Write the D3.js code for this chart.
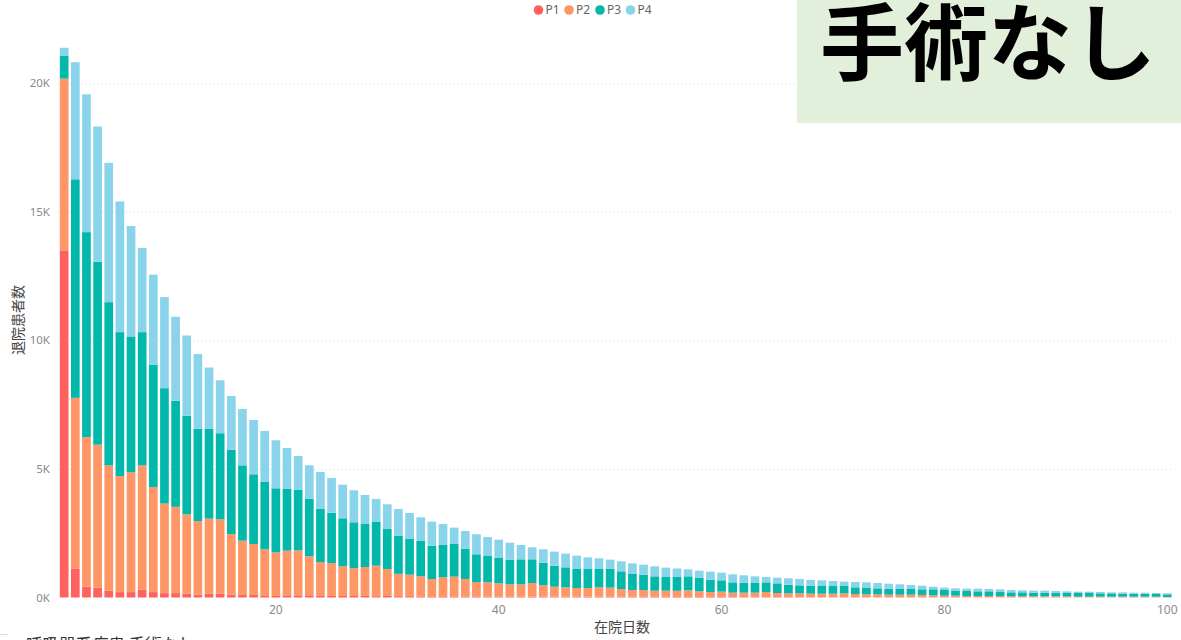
<!DOCTYPE html>
<html><head><meta charset="utf-8">
<script src="https://cdn.jsdelivr.net/npm/d3@7"></script>
<style>
html,body{margin:0;padding:0;background:#fff;overflow:hidden}
text{font-family:"Segoe UI","Noto Sans","Noto Sans CJK JP",sans-serif}
</style></head>
<body>
<svg id="chart" width="1181" height="640"></svg>
<script>
const days = d3.range(1, 101);
const seriesNames = ["P1","P2","P3","P4"];
const seriesColors = ["#FD625E","#FE9666","#01B8AA","#8AD4EB"];
const P1 = [13500,1130,420,380,260,210,210,300,210,170,170,145,110,145,145,110,95,95,60,60,
  85,60,60,80,60,60,60,60,50,60,50,50,45,45,45,45,40,40,40,40,
  35,35,35,35,30,30,30,30,30,30,25,25,25,25,25,20,20,20,20,20,
  15,15,15,15,15,15,12,12,12,12,12,10,10,10,10,10,10,8,8,8,
  8,6,6,6,6,5,5,5,5,5,5,4,4,4,4,4,4,4,3,3];
const P2 = [6680,6635,5817,5565,4879,4513,4665,4839,4082,3483,3358,3091,2864,2923,2897,2355,2115,1987,1814,1697,
  1737,1775,1542,1301,1282,1153,1088,1127,1189,1049,870,838,779,675,740,766,680,563,550,511,
  477,477,529,438,391,366,340,340,366,353,306,267,267,241,241,240,259,220,194,207,
  173,173,173,199,160,147,150,137,137,137,150,126,113,113,100,100,100,92,76,63,
  63,52,52,52,52,40,40,40,40,40,40,28,28,28,28,28,28,28,29,16];
const P3 = [880,8500,7973,7112,6348,5597,5279,5181,4764,4487,4125,3830,3582,3488,3346,3286,2931,2710,2620,2491,
  2400,2348,2231,2062,1959,1867,1777,1673,1712,1556,1486,1388,1374,1297,1258,1271,1180,1077,1025,986,
  960,973,921,882,818,778,739,739,713,726,687,622,596,558,532,538,545,532,480,441,
  402,389,376,376,376,337,311,311,298,298,285,260,247,234,234,221,221,218,234,221,
  195,195,182,182,156,156,156,143,143,143,130,143,143,130,130,117,117,117,104,104];
const P4 = [320,4555,5360,5263,5417,5084,4292,3278,3501,3541,3265,3124,2911,2389,2060,2086,2193,2114,1985,1867,
  1595,1323,1310,1440,1349,1310,1245,1128,882,960,1038,1012,921,933,812,635,688,778,739,713,
  662,558,467,519,544,532,519,454,415,363,389,415,390,389,363,330,272,272,311,298,
  311,286,260,208,221,247,247,221,221,195,169,207,220,207,194,181,155,142,103,91,
  91,91,104,91,104,91,78,78,78,65,65,52,52,52,39,52,39,39,39,39];
const yTicks = [0,5000,10000,15000,20000];
const yTickLabels = ["0K","5K","10K","15K","20K"];
const xTicks = [20,40,60,80,100];
const xTitle = "在院日数";
const yTitle = "退院患者数";
const bigTitle = "手術なし";
const footer = "呼吸器系疾患 手術なし";

const svg = d3.select("#chart");
const rows = days.map((d,i)=>({day:d,P1:P1[i],P2:P2[i],P3:P3[i],P4:P4[i]}));
const stack = d3.stack().keys(seriesNames)(rows);

const x = d3.scaleBand().domain(days).range([58.6,1172.8]).paddingInner(0.22).paddingOuter(0.11);
const y = d3.scaleLinear().domain([0,22000]).range([597.5, 597.5-22000*0.025712]);

// gridlines
svg.append("g").selectAll("line").data(yTicks.filter(t=>t>0)).join("line")
  .attr("x1",58).attr("x2",1172)
  .attr("y1",d=>y(d)+0.5).attr("y2",d=>y(d)+0.5)
  .attr("stroke","#d4d4d4").attr("stroke-width",1).attr("stroke-dasharray","1,3");

// y labels
svg.append("g").selectAll("text").data(yTicks).join("text")
  .attr("x",50).attr("y",d=>y(d)).attr("dy","0.35em")
  .attr("text-anchor","end").attr("font-size",11.5).attr("fill","#8a8a8a")
  .text((d,i)=>yTickLabels[i]);

// bars
svg.append("g").selectAll("g").data(stack).join("g")
  .attr("fill",(d,i)=>seriesColors[i])
  .selectAll("rect").data(d=>d).join("rect")
  .attr("x",d=>x(d.data.day)).attr("width",x.bandwidth())
  .attr("y",d=>y(d[1])).attr("height",d=>Math.max(0,y(d[0])-y(d[1])));

// x labels
svg.append("g").selectAll("text").data(xTicks).join("text")
  .attr("x",d=>x(d)+x.bandwidth()/2).attr("y",614)
  .attr("text-anchor","middle").attr("font-size",12).attr("fill","#8a8a8a")
  .text(d=>d);

// axis titles
svg.append("text").attr("x",622).attr("y",632).attr("text-anchor","middle")
  .attr("font-size",14).attr("fill","#444").text(xTitle);
svg.append("text").attr("transform","translate(23,320) rotate(-90)").attr("text-anchor","middle")
  .attr("font-size",14).attr("fill","#444").text(yTitle);

// legend
const legendX = [538.5,569,600,630.5];
const lg = svg.append("g").selectAll("g").data(seriesNames).join("g")
  .attr("transform",(d,i)=>`translate(${legendX[i]},10)`);
lg.append("circle").attr("r",4.8).attr("fill",(d,i)=>seriesColors[i]);
lg.append("text").attr("x",7).attr("dy","0.35em").attr("font-size",12).attr("fill","#666").text(d=>d);

// title box
svg.append("rect").attr("x",797).attr("y",0).attr("width",384).attr("height",123).attr("fill","#E2EFDA");
svg.append("text").attr("x",988).attr("y",74).attr("text-anchor","middle")
  .attr("font-size",84).attr("font-weight",700).attr("fill","#000")
  .style("font-family",'"Noto Sans CJK JP",sans-serif').text(bigTitle);

// footer (cut off)
svg.append("line").attr("x1",0).attr("x2",8).attr("y1",634.5).attr("y2",634.5).attr("stroke","#ddd");
svg.append("text").attr("x",26).attr("y",651).attr("font-size",16.5).attr("fill","#333")
  .style("font-family",'"Noto Sans CJK JP",sans-serif').text(footer);
</script>
</body></html>
